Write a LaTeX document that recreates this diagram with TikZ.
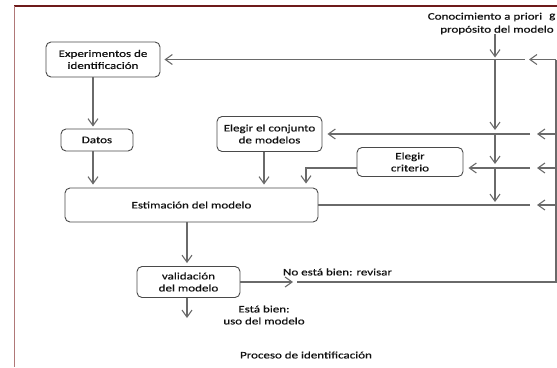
\documentclass[tikz,border=0pt]{standalone}
\usepackage{fontspec}
\setmainfont[FakeStretch=1.3,FakeBold=0.5]{Carlito}
\usetikzlibrary{arrows.meta,calc}
\definecolor{frameTop}{HTML}{6E1A1A}
\definecolor{frameLeft}{HTML}{B07878}
\definecolor{lineGray}{HTML}{6A6A6A}
\definecolor{boxGray}{HTML}{4A4A4A}
\definecolor{txt}{HTML}{111111}
\begin{document}
\begin{tikzpicture}[x=1pt,y=-1pt,
  every node/.style={font=\fontsize{10}{12}\selectfont, text=txt},
  box/.style={draw=boxGray, line width=0.9pt, rounded corners=5pt, align=center, inner sep=0pt},
  conn/.style={draw=lineGray, line width=1.1pt},
  arr/.style={conn, -{Straight Barb[length=7pt,width=10pt]}},
  lbl/.style={inner sep=0pt, align=center}]
\useasboundingbox (0,0) rectangle (557,367);
% frame
\draw[frameTop, line width=1.8pt] (14,6) -- (557,6);
\draw[frameLeft, line width=1pt] (14,6) -- (14,367);

% boxes
\node[box, minimum width=114pt, minimum height=35pt] (exp) at (103,59.5) {Experimentos de\\identificación};
\node[box, minimum width=72pt, minimum height=22pt] (datos) at (97,140) {Datos};
\node[box, minimum width=105pt, minimum height=35pt] (conj) at (269.5,134) {Elegir el conjunto\\de modelos};
\node[box, minimum width=106pt, minimum height=29pt] (crit) at (410,162) {Elegir\\criterio};
\node[box, minimum width=253pt, minimum height=34pt] (est) at (191.5,205) {Estimación del modelo};
\node[box, minimum width=103pt, minimum height=31pt] (val) at (188.5,282) {validación\\del modelo};

% labels
\node[lbl] (con1) at (485,17) {Conocimiento a priori};
\node[lbl] (con2) at (497,30) {propósito del modelo};
\node[lbl, anchor=west] (gg) at (549,17) {g};
\node[lbl] (nob) at (337.5,272) {No está bien: revisar};
\node[lbl] (okb) at (264,315) {Está bien:\\uso del modelo};
\node[lbl] (proc) at (306,355) {Proceso de identificación};

% helper coordinates
\coordinate (bus1) at (495,0);
\coordinate (bus2) at (556,0);
\coordinate (cy) at (0,168);
\coordinate (ax) at (93,0);
\coordinate (qx) at (264,0);
\coordinate (cx) at (306,0);
\coordinate (vx) at (187,0);
\coordinate (nbe) at (293,0);
\coordinate (nbs) at (297,0);
\coordinate (endv) at (187,318);

% vertical left flow
\draw[arr, shorten >=2pt] (exp.south -| ax) -- (datos.north -| ax);
\draw[arr, shorten >=3pt] (datos.south -| ax) -- (est.north -| ax);
\draw[arr, shorten >=3pt] (conj.south -| qx) -- (est.north -| qx);
\draw[arr, shorten >=4pt] (crit.west |- cy) -- (cx |- cy) -- (cx |- est.north);
\draw[arr, shorten >=3pt] (est.south -| vx) -- (val.north -| vx);
\draw[arr] (val.south -| vx) -- (endv);

% a priori vertical chain
\draw[arr, shorten >=2pt] (con2.south -| bus1) -- (bus1 |- exp.east);
\draw[arr, shorten >=4pt] (bus1 |- exp.east) -- (bus1 |- conj.east);
\draw[arr, shorten >=4pt] (bus1 |- conj.east) -- (bus1 |- cy);
\draw[arr, shorten >=3pt] (bus1 |- cy) -- (bus1 |- est.east);

% feedback loop
\draw[arr] (val.east) -- (nbe |- val.east);
\draw[conn] (nbs |- val.east) -- (bus2 |- val.east) -- (bus2 |- exp.east);
\draw[arr] (bus2 |- exp.east) -- ++(-27,0);
\draw[arr] (bus2 |- conj.east) -- ++(-19,0);
\draw[arr] (bus2 |- cy) -- ++(-19,0);
\draw[arr] (bus2 |- est.east) -- ++(-19,0);

% left segments into boxes
\draw[arr, shorten >=4pt] ($(bus1 |- exp.east)+(30,0)$) -- (exp.east);
\draw[arr, shorten >=5pt] ($(bus1 |- conj.east)+(35,0)$) -- (conj.east);
\draw[arr, shorten >=5pt] ($(bus1 |- cy)+(35,0)$) -- (crit.east |- cy);
\draw[conn] ($(bus1 |- est.east)+(35,0)$) -- (est.east);
\end{tikzpicture}
\end{document}
